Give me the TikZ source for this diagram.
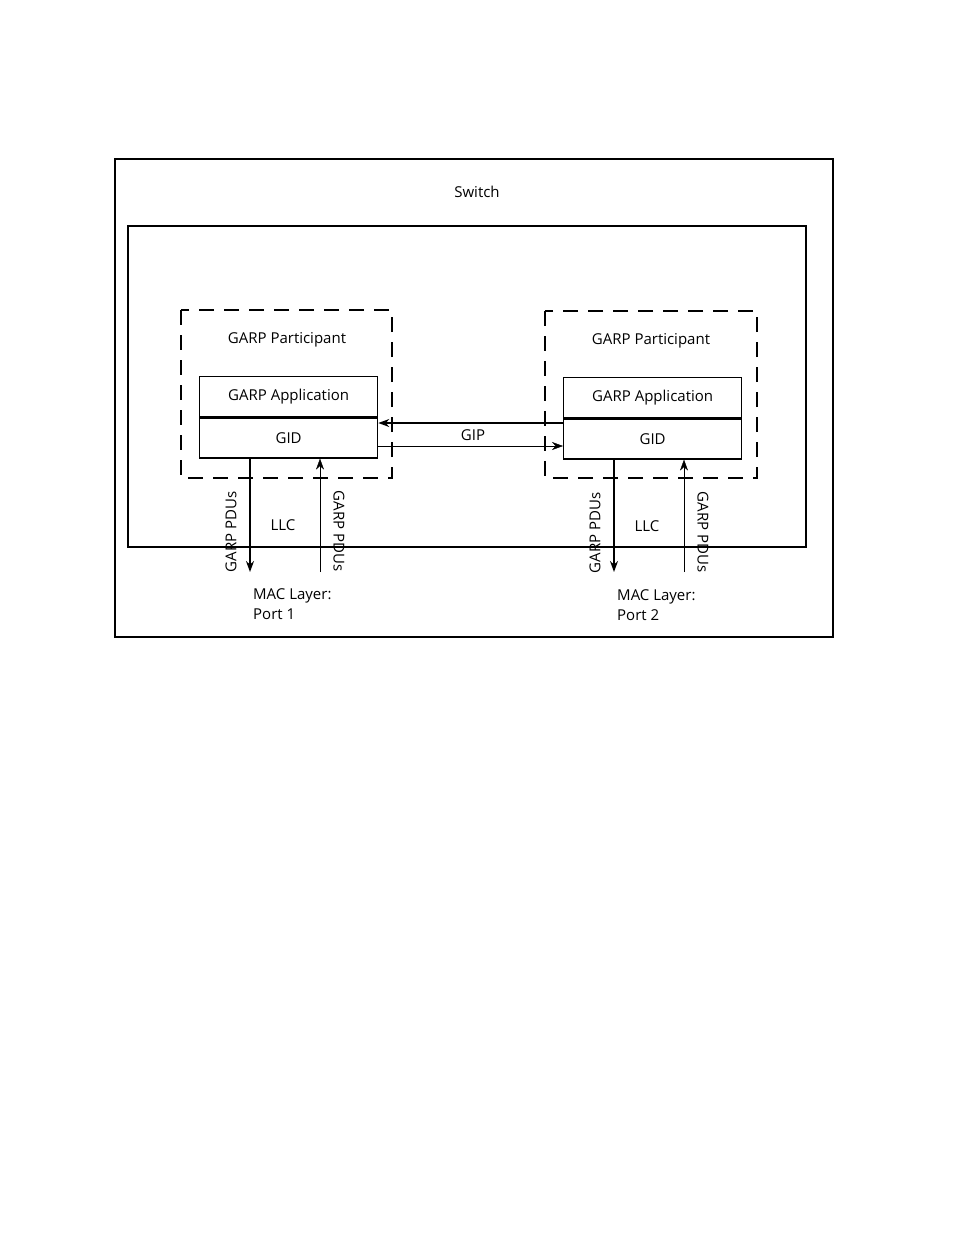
\documentclass[tikz,border=0pt]{standalone}
\usepackage{fontspec}
\setmainfont{Open Sans}
\usetikzlibrary{arrows, arrows.meta}

\begin{document}
\begin{tikzpicture}[x=1pt,y=-1pt,
    lbl/.style={font=\fontsize{15}{20}\selectfont, inner sep=0pt},
    part/.style={draw, line width=1.2pt, dash pattern=on 15pt off 10pt},
    blk/.style={draw, line width=1.3pt, minimum width=178pt, minimum height=40pt, inner sep=0pt, font=\fontsize{15}{18}\selectfont},
    tip/.style={-{Stealth[length=11pt, width=8pt]}}]

        \useasboundingbox (0,0) rectangle (954,1235);

        % Switch frame
        \draw [line width=1.3pt] (115,159) rectangle (833,637);
        \node [lbl] (switch) at (477,192) {Switch};
        \draw [line width=1.6pt] (128,226) rectangle (806,547);

        % Participants
        \draw [part] (181,310) rectangle (392,478);
        \node [lbl] (partA) at (287,340) {GARP Participant};
        \node [blk, anchor=north west] (appA) at (199,376) {GARP Application};
        \node [blk, anchor=north] (gidA) at (appA.south) {GID};

        \draw [part] (545,311) rectangle (757,478);
        \node [lbl] (partB) at (651,341) {GARP Participant};
        \node [blk, anchor=north west] (appB) at (563,377) {GARP Application};
        \node [blk, anchor=north] (gidB) at (appB.south) {GID};

        % GIP arrows
        \draw [line width=1.6pt, tip] (gidB.west |- 0,423) -- (gidA.east |- 0,423);
        \draw [thin, tip] (gidA.east |- 0,446) -- (gidB.west |- 0,446);
        \node [lbl] (gip) at (473,435) {GIP};

        % Port 1
        \coordinate (downA) at (250,572);
        \coordinate (upA) at (320,572);
        \draw [line width=1.6pt, tip] (gidA.south -| downA) -- (downA);
        \draw [thin, tip] (upA) -- (gidA.south -| upA);
        \node [lbl, rotate=90] at (231,532) {GARP PDUs};
        \node [lbl, rotate=-90] at (339,531) {GARP PDUs};
        \node [lbl] (llcA) at (283,525) {LLC};
        \node [lbl, align=left, anchor=north west] (macA) at (253,588) {MAC Layer:\\Port 1};

        % Port 2
        \coordinate (downB) at (614,572);
        \coordinate (upB) at (684,572);
        \draw [line width=1.6pt, tip] (gidB.south -| downB) -- (downB);
        \draw [thin, tip] (upB) -- (gidB.south -| upB);
        \node [lbl, rotate=90] at (595,533) {GARP PDUs};
        \node [lbl, rotate=-90] at (703,532) {GARP PDUs};
        \node [lbl] (llcB) at (647,526) {LLC};
        \node [lbl, align=left, anchor=north west] (macB) at (617,589) {MAC Layer:\\Port 2};

    \end{tikzpicture}
\end{document}
